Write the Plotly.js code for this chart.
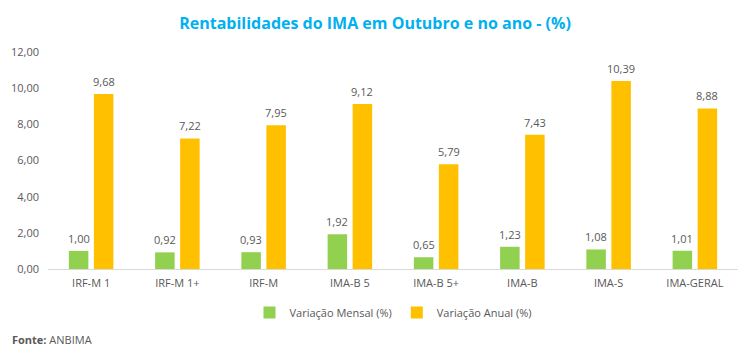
<!DOCTYPE html>
<html><head><meta charset="utf-8">
<script src="https://cdn.plot.ly/plotly-3.0.1.min.js"></script>
<style>html,body{margin:0;padding:0;background:#fff}</style>
</head><body>
<div id="chart" style="width:750px;height:355px"></div>
<script>
var categories = ["IRF-M 1","IRF-M 1+","IRF-M","IMA-B 5","IMA-B 5+","IMA-B","IMA-S","IMA-GERAL"];
var mensal = [1.00,0.92,0.93,1.92,0.65,1.23,1.08,1.01];
var anual = [9.68,7.22,7.95,9.12,5.79,7.43,10.39,8.88];
var seriesNames = ["Variação Mensal (%)","Variação Anual (%)"];

function fmt(v){return v.toFixed(2).replace('.',',');}
var gray = '#595959';
var font = 'Open Sans, Noto Sans, sans-serif';

var traces = [
 {type:'bar', name:seriesNames[0], x:categories, y:mensal, marker:{color:'#92D050'}, hoverinfo:'none', offsetgroup:'a'},
 {type:'bar', name:seriesNames[1], x:categories, y:anual, marker:{color:'#FFC000'}, hoverinfo:'none', offsetgroup:'b'}
];
var bargap = 0.42, bargroupgap = 0.22;
var slot = (1-bargap)/2;
var anns = [];
categories.forEach(function(c,i){
  anns.push({xref:'x', yref:'y', x:i - slot/2, y:mensal[i], text:fmt(mensal[i]), showarrow:false, yanchor:'bottom', yshift:3, font:{size:11,color:gray,family:font}});
  anns.push({xref:'x', yref:'y', x:i + slot/2, y:anual[i], text:fmt(anual[i]), showarrow:false, yanchor:'bottom', yshift:3, font:{size:11,color:gray,family:font}});
});
anns.push({xref:'paper', yref:'paper', x:-0.055, y:-0.327, xanchor:'left', yanchor:'middle', showarrow:false,
   text:'<b>Fonte:</b> ANBIMA', font:{size:11,color:gray,family:font}});
var layout = {
 width:750, height:355,
 margin:{l:48, r:12, t:52, b:86},
 paper_bgcolor:'#fff', plot_bgcolor:'#fff',
 font:{family:font, color:gray, size:11},
 title:{text:'<b>Rentabilidades do IMA em Outubro e no ano - (%)</b>', font:{family:'Open Sans, sans-serif', size:16, color:'#00B0F0'}, x:0.5, xanchor:'center', y:0.935, yanchor:'middle'},
 separators:',.',
 barmode:'group', bargap:bargap, bargroupgap:bargroupgap,
 xaxis:{type:'category', showgrid:false, showline:true, linecolor:'#D9D9D9', linewidth:1, ticks:'', ticklabelstandoff:4, tickfont:{size:11,color:gray}, fixedrange:true},
 yaxis:{range:[0,12], dtick:2, tickformat:'.2f', showgrid:false, zeroline:false, showline:false, ticks:'', ticklabelstandoff:8, tickfont:{size:11,color:gray}, fixedrange:true},
 legend:{orientation:'h', x:0.5, xanchor:'center', y:-0.2, yanchor:'middle', font:{size:11,color:gray}, itemwidth:30, tracegroupgap:0},
 showlegend:true,
 annotations:anns
};
Plotly.newPlot('chart', traces, layout, {displayModeBar:false, staticPlot:true});
</script>
</body></html>
